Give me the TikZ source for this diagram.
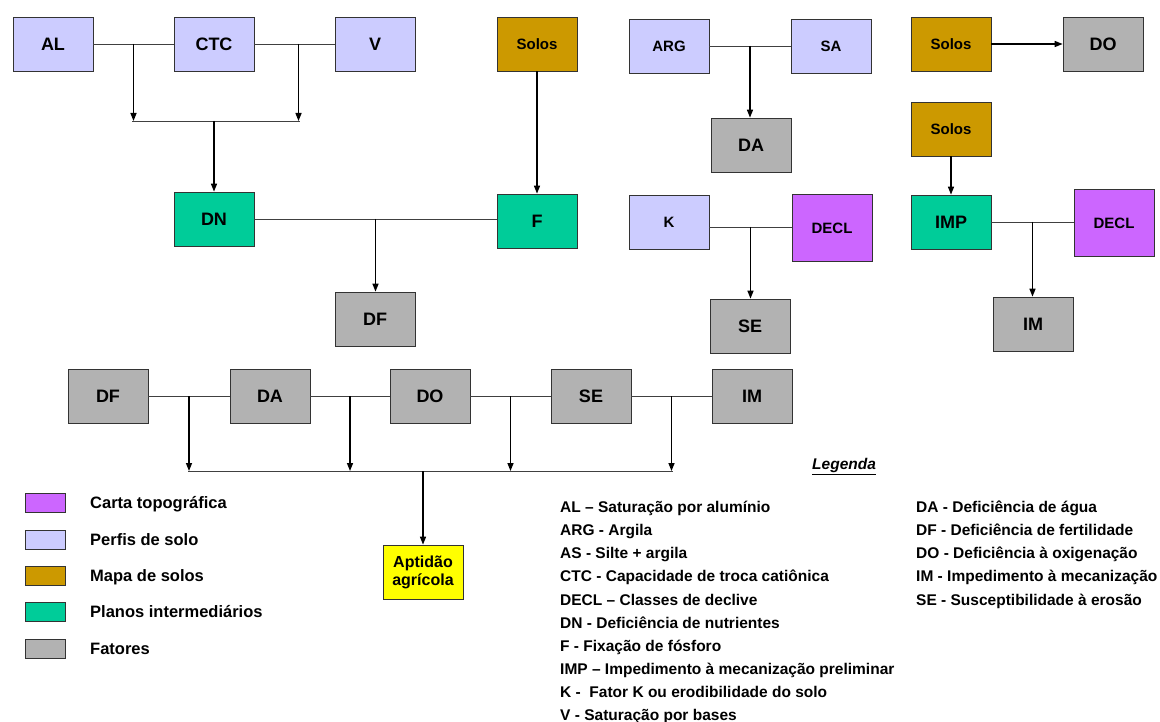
\documentclass[tikz,border=0pt]{standalone}
\usepackage{fontspec}
\setmainfont{Liberation Sans}
\usetikzlibrary{arrows.meta}

\definecolor{cartac}{HTML}{CC66FF}
\definecolor{perfilc}{HTML}{CCCCFF}
\definecolor{mapac}{HTML}{CC9900}
\definecolor{planoc}{HTML}{00CC99}
\definecolor{fatorc}{HTML}{B2B2B2}
\definecolor{aptc}{HTML}{FFFF00}

\tikzset{
  box/.style={draw=black!80, line width=0.7pt, minimum width=80pt, minimum height=54pt,
    inner sep=0pt, font=\fontsize{18}{20}\selectfont\bfseries},
  smallbox/.style={box, font=\fontsize{15}{17}\selectfont\bfseries},
  carta/.style={smallbox, fill=cartac, minimum height=67pt},
  perfil/.style={box, fill=perfilc},
  mapa/.style={smallbox, fill=mapac},
  plano/.style={box, fill=planoc},
  fator/.style={box, fill=fatorc},
  link/.style={draw=black!75, line width=0.8pt},
  arr/.style={draw=black, line width=1.4pt, -{Triangle[length=8pt,width=6pt]}},
  swatch/.style={draw=black!80, line width=0.7pt, minimum width=40pt, minimum height=19pt, inner sep=0pt},
  legtext/.style={anchor=west, inner sep=0pt, text height=0.75em, text depth=0.25em,
    font=\fontsize{15.5}{17}\selectfont\bfseries},
}

\begin{document}
\begin{tikzpicture}[x=1pt, y=-1pt]
  \useasboundingbox (0,0) rectangle (1160,722);

  % --- DN e F
  \node[perfil] (al) at (53,44) {AL};
  \node[perfil] (ctc) at (214,44) {CTC};
  \node[perfil] (v) at (375,44) {V};
  \node[mapa] (solosa) at (537,44) {Solos};
  \node[plano] (dn) at (214,219) {DN};
  \node[plano] (f) at (537,221) {F};
  \node[fator] (dfa) at (375,319) {DF};

  \draw[link] (al) -- (ctc) coordinate[pos=0.5] (jal);
  \draw[link] (ctc) -- (v) coordinate[pos=0.55] (jv);
  \coordinate (barl) at (132,121);
  \coordinate (barr) at (300,121);
  \draw[arr] (jal) -- (jal |- barl);
  \draw[arr] (jv) -- (jv |- barr);
  \draw[link] (barl) -- (barr);
  \draw[arr] (barl -| dn) -- (dn);
  \draw[arr] (solosa) -- (solosa |- f.north);
  \draw[link] (dn.east) -- (dn.east -| f.west) coordinate[pos=0.5] (jdn);
  \draw[arr] (jdn) -- (jdn |- dfa.north);

  % --- DA
  \node[perfil, font=\fontsize{15}{17}\selectfont\bfseries] (arg) at (669,46) {ARG};
  \node[perfil, font=\fontsize{15}{17}\selectfont\bfseries] (sa) at (831,46) {SA};
  \node[fator] (daa) at (751,145) {DA};
  \draw[link] (arg) -- (sa) coordinate[pos=0.5] (jarg);
  \draw[arr] (jarg) -- (jarg |- daa.north);

  % --- SE
  \node[perfil, font=\fontsize{15}{17}\selectfont\bfseries] (k) at (669,222) {K};
  \node[carta] (decla) at (832,228) {DECL};
  \node[fator] (sea) at (750,326) {SE};
  \draw[link] ([yshift=-5pt]k.east) -- ([yshift=-5pt]k.east -| decla.west) coordinate[pos=0.5] (jk);
  \draw[arr] (jk) -- (jk |- sea.north);

  % --- DO
  \node[mapa] (solosb) at (951,44) {Solos};
  \node[fator] (doa) at (1103,44) {DO};
  \draw[arr] (solosb) -- (doa);

  % --- IM
  \node[mapa] (solosc) at (951,129) {Solos};
  \node[plano] (imp) at (951,222) {IMP};
  \node[carta] (declb) at (1114,223) {DECL};
  \node[fator] (ima) at (1033,324) {IM};
  \draw[arr] (solosc) -- (imp);
  \draw[link] (imp.east) -- (imp.east -| declb.west) coordinate[pos=0.5] (jimp);
  \draw[arr] (jimp) -- (jimp |- ima.north);

  % --- aptidao
  \node[fator] (dfb) at (108,396) {DF};
  \node[fator] (dab) at (270,396) {DA};
  \node[fator] (dob) at (430,396) {DO};
  \node[fator] (seb) at (591,396) {SE};
  \node[fator] (imb) at (752,396) {IM};
  \node[box, fill=aptc, align=center, font=\fontsize{16}{18}\selectfont\bfseries] (apt) at (423,572) {Aptidão\\agrícola};
  \coordinate (bar2l) at (188,471);
  \coordinate (bar2r) at (673,471);
  \draw[link] (dfb) -- (dab) coordinate[pos=0.5] (j1);
  \draw[link] (dab) -- (dob) coordinate[pos=0.5] (j2);
  \draw[link] (dob) -- (seb) coordinate[pos=0.5] (j3);
  \draw[link] (seb) -- (imb) coordinate[pos=0.5] (j4);
  \foreach \j in {j1,j2,j3,j4}
    \draw[arr] (\j) -- (\j |- bar2l);
  \draw[link] (bar2l) -- (bar2r);
  \draw[arr] (bar2l -| apt) -- (apt);

  % --- legenda
  \node[legtext, font=\fontsize{15.5}{17}\selectfont\bfseries\itshape] (leg) at (812,467) {\underline{Legenda}};
  \foreach \c/\t [count=\i] in {cartac/Carta topográfica, perfilc/Perfis de solo, mapac/Mapa de solos,
      planoc/Planos intermediários, fatorc/Fatores} {
    \node[swatch, fill=\c] (sw\i) at (45,467+36.3*\i) {};
    \node[legtext, font=\fontsize{16.5}{18}\selectfont\bfseries] (swt\i) at (90,470+36.3*\i) {\t};
  }
  \foreach \t [count=\i] in {AL – Saturação por alumínio, ARG - Argila, AS - Silte + argila,
      CTC - Capacidade de troca catiônica, DECL – Classes de declive, DN - Deficiência de nutrientes,
      F - Fixação de fósforo, IMP – Impedimento à mecanização preliminar,
      K -\ \ Fator K ou erodibilidade do solo, V - Saturação por bases}
    \node[legtext] (la\i) at (560,487+23.1*\i) {\t};
  \foreach \t [count=\i] in {DA - Deficiência de água, DF - Deficiência de fertilidade,
      DO - Deficiência à oxigenação, IM - Impedimento à mecanização, SE - Susceptibilidade à erosão}
    \node[legtext] (lb\i) at (916,487+23.1*\i) {\t};
\end{tikzpicture}
\end{document}
